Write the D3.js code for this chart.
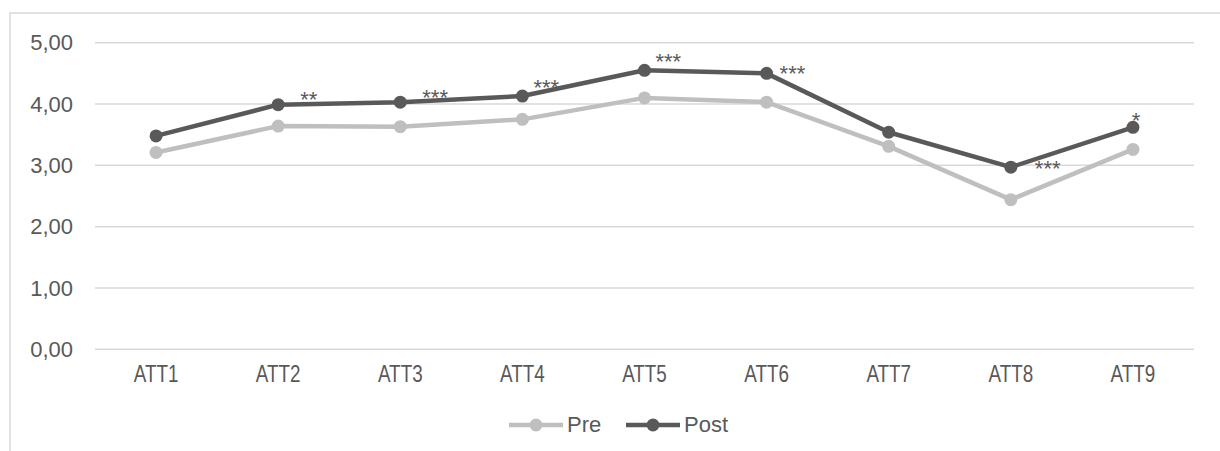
<!DOCTYPE html>
<html>
<head>
<meta charset="utf-8">
<script src="https://cdn.jsdelivr.net/npm/d3@7"></script>
<style>
  html, body { margin: 0; padding: 0; background: #fff; }
  svg { display: block; }
  text { font-family: "Liberation Sans", Arial, sans-serif; fill: #595959; }
</style>
</head>
<body>
<svg id="chart" width="1220" height="451"></svg>
<script>
// ---- data ----
const categories = ["ATT1", "ATT2", "ATT3", "ATT4", "ATT5", "ATT6", "ATT7", "ATT8", "ATT9"];
const preValues  = [3.21, 3.64, 3.63, 3.75, 4.10, 4.03, 3.31, 2.44, 3.26];
const postValues = [3.48, 3.99, 4.03, 4.13, 4.55, 4.50, 3.54, 2.97, 3.62];
const seriesNames = ["Pre", "Post"];
const yTicks = [0, 1, 2, 3, 4, 5];
const yTickLabels = ["0,00", "1,00", "2,00", "3,00", "4,00", "5,00"];
const sigLabels = ["", "**", "***", "***", "***", "***", "", "***", "*"];
const sigPlacement = ["", "ne", "ne", "nne", "nne", "ene", "", "e", "n"];

// ---- layout ----
const svg = d3.select("#chart");
const plot = { left: 95, right: 1194, top: 42.7, bottom: 349.3 };
const colors = { Pre: "#bfbfbf", Post: "#595959" };

// chart border
svg.append("rect")
  .attr("x", 10).attr("y", 13)
  .attr("width", 1300).attr("height", 600)
  .attr("fill", "none").attr("stroke", "#d9d9d9").attr("stroke-width", 1.5);

const x = d3.scaleBand().domain(categories).range([plot.left, plot.right]);
const y = d3.scaleLinear().domain([0, 5]).range([plot.bottom, plot.top]);
const cx = c => x(c) + x.bandwidth() / 2;

// gridlines
svg.append("g").selectAll("line").data(yTicks).join("line")
  .attr("x1", plot.left).attr("x2", plot.right)
  .attr("y1", d => y(d)).attr("y2", d => y(d))
  .attr("stroke", "#d9d9d9").attr("stroke-width", 1.5);

// y axis labels
const yAxis = d3.axisLeft(y).tickValues(yTicks)
  .tickFormat((d, i) => yTickLabels[i]).tickSize(0).tickPadding(22);
const yg = svg.append("g").attr("transform", `translate(${plot.left},0)`).call(yAxis);
yg.select(".domain").remove();
yg.selectAll("text").attr("font-size", 22).style("font-family", '"Liberation Sans", Arial, sans-serif').attr("fill", "#595959");

// x axis labels
const xAxis = d3.axisBottom(x).tickSize(0).tickPadding(0);
const xg = svg.append("g").attr("transform", `translate(0,${plot.bottom})`).call(xAxis);
xg.select(".domain").remove();
xg.selectAll("text")
  .attr("font-size", 23).attr("y", 0).attr("dy", 0)
  .attr("transform", "translate(0,33) scale(0.82,1)")
  .style("font-family", '"Liberation Sans", Arial, sans-serif').attr("fill", "#595959");

// lines
const line = d3.line().x((d, i) => cx(categories[i])).y(d => y(d));
const series = [
  { name: "Pre", values: preValues },
  { name: "Post", values: postValues }
];
series.forEach(s => {
  svg.append("path").datum(s.values)
    .attr("d", line).attr("fill", "none")
    .attr("stroke", colors[s.name]).attr("stroke-width", 4.5)
    .attr("stroke-linejoin", "round").attr("stroke-linecap", "round");
  svg.append("g").selectAll("circle").data(s.values).join("circle")
    .attr("cx", (d, i) => cx(categories[i])).attr("cy", d => y(d))
    .attr("r", 6.5).attr("fill", colors[s.name]);
});

// significance labels (placement keywords relative to the Post marker)
const offsets = {
  ne:  [22, -10, "start"],
  nne: [11, -14, "start"],
  ene: [13, -5, "start"],
  e:   [24, -4, "start"],
  n:   [3, -12, "middle"]
};
svg.append("g").selectAll("text").data(sigLabels.map((t, i) => ({ t, i })).filter(d => d.t))
  .join("text")
  .attr("x", d => cx(categories[d.i]) + offsets[sigPlacement[d.i]][0])
  .attr("y", d => y(postValues[d.i]) + offsets[sigPlacement[d.i]][1] + 12.5)
  .attr("text-anchor", d => offsets[sigPlacement[d.i]][2])
  .attr("font-size", 22)
  .text(d => d.t);

// legend
const legendItems = [
  { name: "Pre", x1: 509, x2: 563 },
  { name: "Post", x1: 626, x2: 680 }
];
const ly = 425;
const lg = svg.append("g");
legendItems.forEach(item => {
  lg.append("line").attr("x1", item.x1).attr("x2", item.x2)
    .attr("y1", ly).attr("y2", ly)
    .attr("stroke", colors[item.name]).attr("stroke-width", 4.5);
  lg.append("circle").attr("cx", (item.x1 + item.x2) / 2).attr("cy", ly)
    .attr("r", 6.5).attr("fill", colors[item.name]);
  lg.append("text").attr("x", item.x2 + 4).attr("y", ly + 7)
    .attr("font-size", 22).text(item.name);
});
</script>
</body>
</html>
